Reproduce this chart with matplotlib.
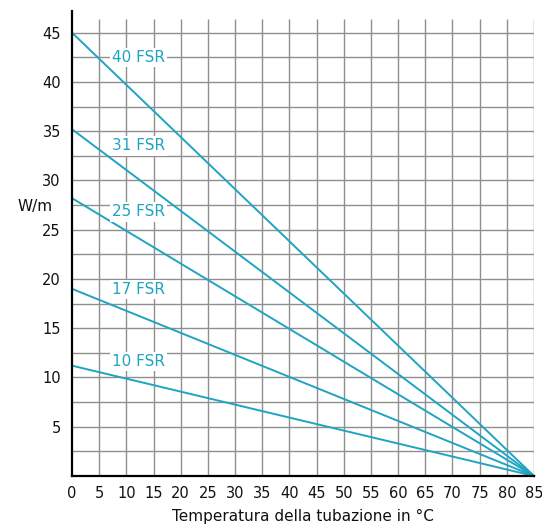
import matplotlib
matplotlib.use("Agg")
import matplotlib.pyplot as plt
import numpy as np

# Data
series_names = ["40 FSR", "31 FSR", "25 FSR", "17 FSR", "10 FSR"]
start_values = [45.0, 35.2, 28.2, 19.0, 11.2]   # W/m at 0 °C
end_temp = 85.0                                 # all reach 0 W/m at 85 °C
label_y = [42.5, 33.5, 26.8, 18.9, 11.6]
label_x = 12.2
x_ticks = list(range(0, 90, 5))
y_ticks = list(range(5, 50, 5))

color = "#1fa4c2"
grid_color = "#8f8f8f"

plt.rcParams['font.family'] = ['DejaVu Sans']

fig = plt.figure(figsize=(5.42, 5.25), dpi=100)
ax = fig.add_axes([72/542, 49/525, 462/542, 465/525])
ax.set_xlim(0, 85)
ax.set_ylim(0, 47.2)

# grid
grid_top = 46.35
for xv in np.arange(5, 86, 5):
    ax.vlines(xv, 0, grid_top, color=grid_color, lw=1.0, zorder=1)
for yv in np.arange(2.5, 46, 2.5):
    ax.hlines(yv, 0, 85, color=grid_color, lw=1.0, zorder=1)

for name, y0, ly in zip(series_names, start_values, label_y):
    ax.plot([0, end_temp], [y0, 0], color=color, lw=1.4, zorder=3, clip_on=False)
    ax.text(label_x, ly, name, color=color, fontsize=11, ha='center', va='center',
            zorder=4, bbox=dict(facecolor='white', edgecolor='none', pad=1.5))

for s in ['top', 'right']:
    ax.spines[s].set_visible(False)
for s in ['left', 'bottom']:
    ax.spines[s].set_linewidth(1.6)
    ax.spines[s].set_color('black')
    ax.spines[s].set_zorder(5)

ax.set_xticks(x_ticks)
ax.set_yticks(y_ticks)
ax.tick_params(axis='both', length=0, labelsize=10.5, colors='#111111')
ax.tick_params(axis='x', pad=7)
ax.tick_params(axis='y', pad=8)

ax.set_xlabel("Temperatura della tubazione in °C", fontsize=11, color='#111111', labelpad=6)
ax.text(-0.043, 27.4, "W/m", transform=ax.get_yaxis_transform(), fontsize=11,
        ha='right', va='center', color='#111111', clip_on=False)

fig.savefig("out.png", dpi=100)
